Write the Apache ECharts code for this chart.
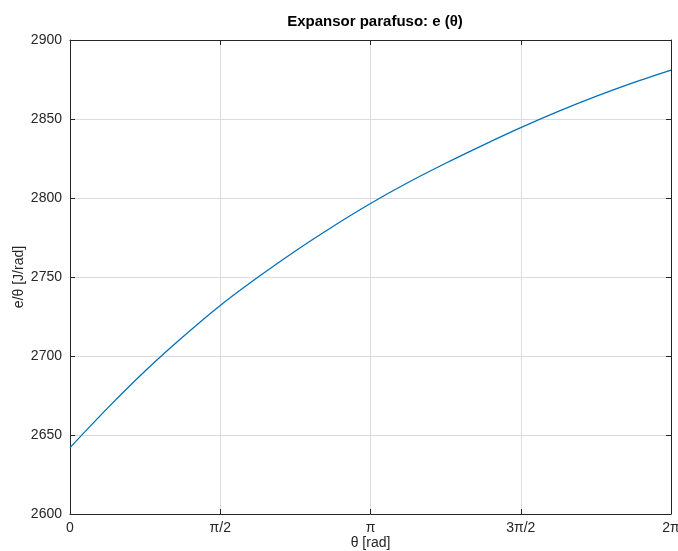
<!DOCTYPE html>
<html>
<head>
<meta charset="utf-8">
<script src="https://cdn.jsdelivr.net/npm/echarts@6/dist/echarts.min.js"></script>
<style>html,body{margin:0;padding:0;background:#fff}#c{width:678px;height:551px}</style>
</head>
<body>
<div id="c"></div>
<script>
// theta in units of pi (0 .. 2), step pi/8
const thetaOverPi = [0, 0.125, 0.25, 0.375, 0.5, 0.625, 0.75, 0.875, 1, 1.125, 1.25, 1.375, 1.5, 1.625, 1.75, 1.875, 2];
const eValues = [2642, 2667, 2690.5, 2712, 2732, 2749.8, 2766.5, 2782, 2796.5, 2809.8, 2822, 2833.5, 2844.5, 2854.8, 2864.3, 2873, 2881];
const xTickValues = [0, 0.5, 1, 1.5, 2];
const xTickLabels = ['0', 'π/2', 'π', '3π/2', '2π'];
const yTicks = [2600, 2650, 2700, 2750, 2800, 2850, 2900];

const FONT = '"Liberation Sans", Arial, sans-serif';
const AX = '#262626';
const chart = echarts.init(document.getElementById('c'), null, {renderer: 'canvas'});
const xFmt = v => {
  for (let i = 0; i < xTickValues.length; i++) if (Math.abs(v - xTickValues[i]) < 1e-6) return xTickLabels[i];
  return '';
};
const yFmt = v => String(Math.round(v));
const common = {
  axisLine: {show: true, onZero: false, lineStyle: {color: AX, width: 1}},
  axisTick: {show: true, inside: true, length: 5, lineStyle: {color: AX}},
};
chart.setOption({
  animation: false,
  title: {
    text: 'Expansor parafuso: e (θ)', left: 370, top: 9, textAlign: 'center',
    textStyle: {fontFamily: FONT, fontSize: 15, fontWeight: 'bold', color: '#000'}
  },
  grid: {left: 70, right: 7, top: 40, bottom: 37, containLabel: false, outerBoundsMode: 'none'},
  xAxis: [{
    type: 'value', min: 0, max: 2, interval: 0.5, position: 'bottom',
    name: 'θ [rad]', nameLocation: 'middle', nameGap: 22, nameMoveOverlap: false,
    nameTextStyle: {fontFamily: FONT, fontSize: 14, color: AX},
    ...common,
    axisLabel: {formatter: xFmt, fontFamily: FONT, fontSize: 14, color: AX, margin: 7},
    splitLine: {show: true, lineStyle: {color: '#dcdcdc', width: 1}}
  }, {
    type: 'value', min: 0, max: 2, interval: 0.5, position: 'top',
    ...common, axisLabel: {show: false}, splitLine: {show: false}
  }],
  yAxis: [{
    type: 'value', min: yTicks[0], max: yTicks[yTicks.length - 1], interval: 50, position: 'left',
    name: 'e/θ [J/rad]', nameLocation: 'middle', nameGap: 44, nameMoveOverlap: false,
    nameTextStyle: {fontFamily: FONT, fontSize: 14, color: AX},
    ...common,
    axisLabel: {formatter: yFmt, fontFamily: FONT, fontSize: 14, color: AX, margin: 8},
    splitLine: {show: true, lineStyle: {color: '#dcdcdc', width: 1}}
  }, {
    type: 'value', min: yTicks[0], max: yTicks[yTicks.length - 1], interval: 50, position: 'right',
    ...common, axisLabel: {show: false}, splitLine: {show: false}
  }],
  series: [{
    type: 'line', xAxisIndex: 0, yAxisIndex: 0,
    data: thetaOverPi.map((t, i) => [t, eValues[i]]),
    smooth: 0.3, showSymbol: false,
    lineStyle: {color: '#0072BD', width: 1.3}
  }]
});
</script>
</body>
</html>
